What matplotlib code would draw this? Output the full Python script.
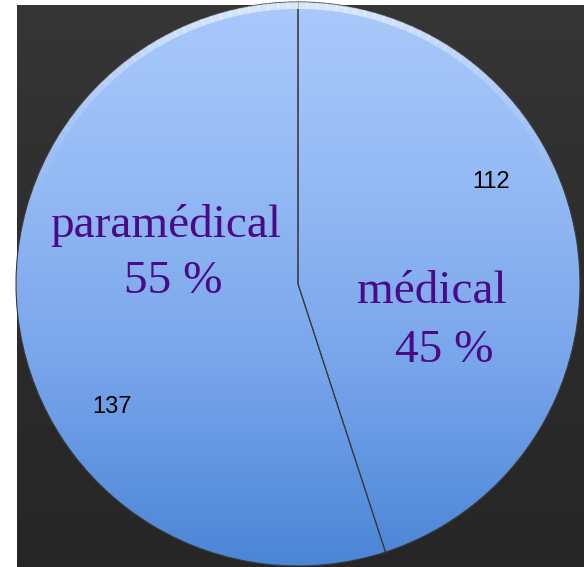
import matplotlib
matplotlib.use('Agg')
import matplotlib.pyplot as plt
import numpy as np
from matplotlib.colors import LinearSegmentedColormap
from matplotlib.patches import Arc

# data
categories = ['médical', 'paramédical']
counts = [112, 137]
percents = ['45 %', '55 %']

W, H = 584, 567
def Y(y):
    # image row -> data y
    return H - y

cx, cy, r = 298, Y(284), 282
purple = '#4b0b87'

fig = plt.figure(figsize=(5.84, 5.67), dpi=100, facecolor='white')
ax = fig.add_axes([0, 0, 1, 1])

# dark backdrop
bg_cmap = LinearSegmentedColormap.from_list('bg', ['#363636', '#2c2c2c', '#262626'])
bg = np.linspace(0, 1, 256).reshape(-1, 1)
ax.imshow(bg, cmap=bg_cmap, extent=(17, W, 0, Y(5)), aspect='auto', zorder=0)

wedges, _ = ax.pie(counts, startangle=90, counterclock=False,
                   center=(cx, cy), radius=r,
                   wedgeprops=dict(facecolor='none', edgecolor='#3a3a3a',
                                   linewidth=0.8, zorder=3))

# blue vertical gradient inside each wedge
pie_cmap = LinearSegmentedColormap.from_list(
    'pie', ['#aac9fb', '#93b9f4', '#76a3ea', '#4a85d6'])
grad = np.linspace(0, 1, 256).reshape(-1, 1)
for w in wedges:
    im = ax.imshow(grad, cmap=pie_cmap, extent=(cx - r, cx + r, cy - r, cy + r),
                   aspect='auto', zorder=2)
    im.set_clip_path(w)

# soft light bevel along the top edge, fading towards the sides
steps = np.arange(10, 170, 2)
for t in steps:
    a = 0.55 * np.sin(np.radians(t)) ** 3
    ax.add_patch(Arc((cx, cy), 2 * r - 7, 2 * r - 7, theta1=t, theta2=t + 2.2,
                     color='white', lw=5, alpha=a, zorder=4))

# category labels
ax.text(166, Y(237), categories[1], ha='center', va='baseline',
        fontsize=34, family='Liberation Serif', color=purple, zorder=5)
ax.text(173, Y(293), percents[1], ha='center', va='baseline',
        fontsize=34, family='Liberation Serif', color=purple, zorder=5)
ax.text(432, Y(303), categories[0], ha='center', va='baseline',
        fontsize=34, family='Liberation Serif', color=purple, zorder=5)
ax.text(444, Y(362), percents[0], ha='center', va='baseline',
        fontsize=34, family='Liberation Serif', color=purple, zorder=5)

# counts
ax.text(491, Y(188), str(counts[0]), ha='center', va='baseline',
        fontsize=17, family='Liberation Sans', color='black', zorder=5)
ax.text(112, Y(413), str(counts[1]), ha='center', va='baseline',
        fontsize=17, family='Liberation Sans', color='black', zorder=5)

ax.set_xlim(0, W)
ax.set_ylim(0, H)
ax.axis('off')

fig.savefig('out.png', dpi=100, facecolor='white')
